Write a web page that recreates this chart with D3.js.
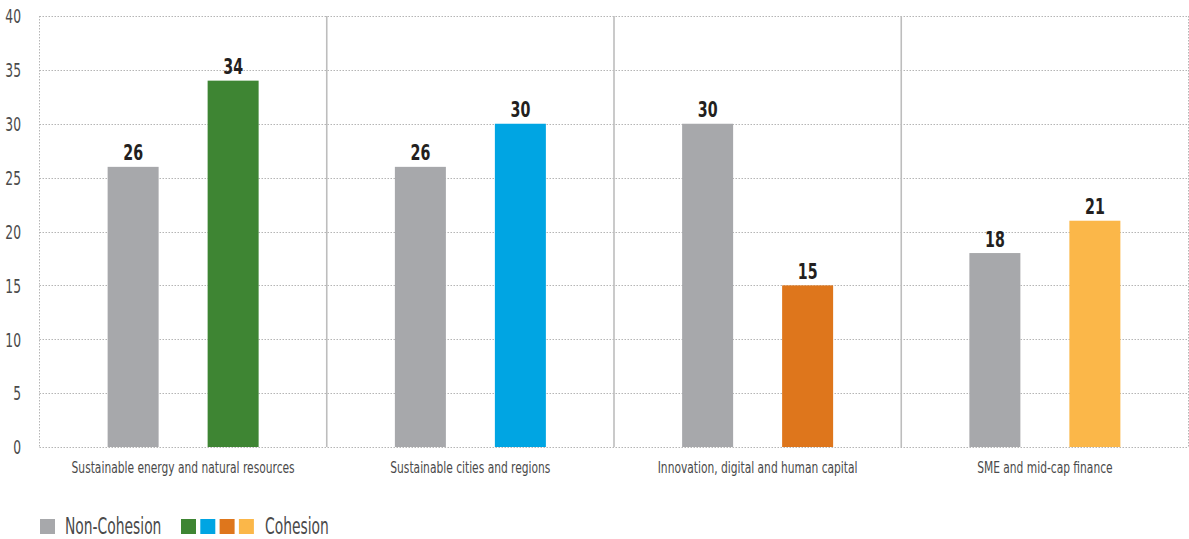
<!DOCTYPE html>
<html>
<head>
<meta charset="utf-8">
<script src="https://cdn.jsdelivr.net/npm/d3@7"></script>
<style>
  html, body { margin: 0; padding: 0; background: #fff; }
  svg { display: block; }
  text { font-family: "DejaVu Sans Condensed", "DejaVu Sans", sans-serif; font-stretch: condensed; }
</style>
</head>
<body>
<svg id="chart" width="1189" height="539"></svg>
<script>
// Categories and their two series values
const categories = [
  "Sustainable energy and natural resources",
  "Sustainable cities and regions",
  "Innovation, digital and human capital",
  "SME and mid-cap finance"
];
const nonCohesion = [26, 26, 30, 18];
const cohesion = [34, 30, 15, 21];
const cohesionColors = ["#3e8533", "#00a5e3", "#de761c", "#fbb749"];
const nonCohesionColor = "#a7a8ab";
const yTicks = [0, 5, 10, 15, 20, 25, 30, 35, 40];
const legendLabels = ["Non-Cohesion", "Cohesion"];

// horizontal squeeze giving a narrow, condensed type look
const SQ = 0.72;

const svg = d3.select("#chart");
const margin = { left: 39.5, right: 1188.5, top: 16, bottom: 447 };

const x = d3.scaleBand().domain(categories).range([margin.left, margin.right]).padding(0);
const y = d3.scaleLinear().domain([0, 40]).range([margin.bottom, margin.top]);

const barW = 51;
const offset = 50;

// Gridlines
const grid = svg.append("g");
grid.selectAll("line.h").data(yTicks).join("line")
  .attr("x1", margin.left).attr("x2", margin.right)
  .attr("y1", d => Math.round(y(d)) + 0.5).attr("y2", d => Math.round(y(d)) + 0.5)
  .attr("stroke", "#b5b5b5").attr("stroke-width", 1).attr("stroke-dasharray", "1.5,1.5");
[margin.left, margin.right].forEach(px => {
  grid.append("line")
    .attr("x1", px).attr("x2", px).attr("y1", margin.top).attr("y2", margin.bottom)
    .attr("stroke", "#b5b5b5").attr("stroke-width", 1).attr("stroke-dasharray", "1.5,1.5");
});
// solid dividers between categories
grid.selectAll("line.div").data(categories.slice(1)).join("line")
  .attr("x1", d => x(d)).attr("x2", d => x(d))
  .attr("y1", margin.top).attr("y2", margin.bottom)
  .attr("stroke", "#bdbdbd").attr("stroke-width", 1.6);

// Y axis labels
const yAxis = d3.axisLeft(y).tickValues(yTicks).tickSize(0).tickPadding(0);
const yg = svg.append("g").attr("transform", "translate(21,0)").call(yAxis);
yg.select(".domain").remove();
yg.selectAll("text").attr("font-size", 19).attr("fill", "#4a4a4a")
  .attr("text-anchor", "end").attr("dy", "0.36em")
  .attr("transform", `scale(${SQ},1)`);

// places a squeezed label at (px, py)
function label(g, px, py, txt, size, opts = {}) {
  return g.append("text")
    .attr("transform", `translate(${px},${py}) scale(${opts.sq || SQ},1)`)
    .attr("text-anchor", opts.anchor || "middle")
    .attr("font-size", size)
    .attr("font-weight", opts.bold ? "bold" : "normal")
    .attr("fill", opts.fill || "#4a4a4a")
    .text(txt);
}

// Bars
const cx = d => x(d) + x.bandwidth() / 2;
const bars = svg.append("g");
categories.forEach((c, i) => {
  bars.append("rect")
    .attr("x", cx(c) - offset - barW / 2).attr("width", barW)
    .attr("y", y(nonCohesion[i])).attr("height", y(0) - y(nonCohesion[i]))
    .attr("fill", nonCohesionColor);
  bars.append("rect")
    .attr("x", cx(c) + offset - barW / 2).attr("width", barW)
    .attr("y", y(cohesion[i])).attr("height", y(0) - y(cohesion[i]))
    .attr("fill", cohesionColors[i]);
  label(bars, cx(c) - offset, y(nonCohesion[i]) - 6.5, nonCohesion[i], 22, { bold: true, fill: "#231f20" });
  label(bars, cx(c) + offset, y(cohesion[i]) - 6.5, cohesion[i], 22, { bold: true, fill: "#231f20" });
});

// Category labels
const xAxis = d3.axisBottom(x).tickSize(0).tickPadding(0);
const xg = svg.append("g").attr("transform", `translate(0,${margin.bottom + 26})`).call(xAxis);
xg.select(".domain").remove();
xg.selectAll("text").attr("font-size", 16.5).attr("fill", "#4a4a4a")
  .attr("dy", null).attr("y", 0)
  .attr("transform", `scale(${SQ},1)`);

// Legend
const lg = svg.append("g");
lg.append("rect").attr("x", 40).attr("y", 519).attr("width", 15).attr("height", 15).attr("fill", nonCohesionColor);
label(lg, 65, 534, legendLabels[0], 22.5, { anchor: "start", sq: 0.685 });
cohesionColors.forEach((col, i) => {
  lg.append("rect").attr("x", 181 + i * 19.3).attr("y", 519).attr("width", 15).attr("height", 15).attr("fill", col);
});
label(lg, 265, 534, legendLabels[1], 22.5, { anchor: "start", sq: 0.685 });
</script>
</body>
</html>
